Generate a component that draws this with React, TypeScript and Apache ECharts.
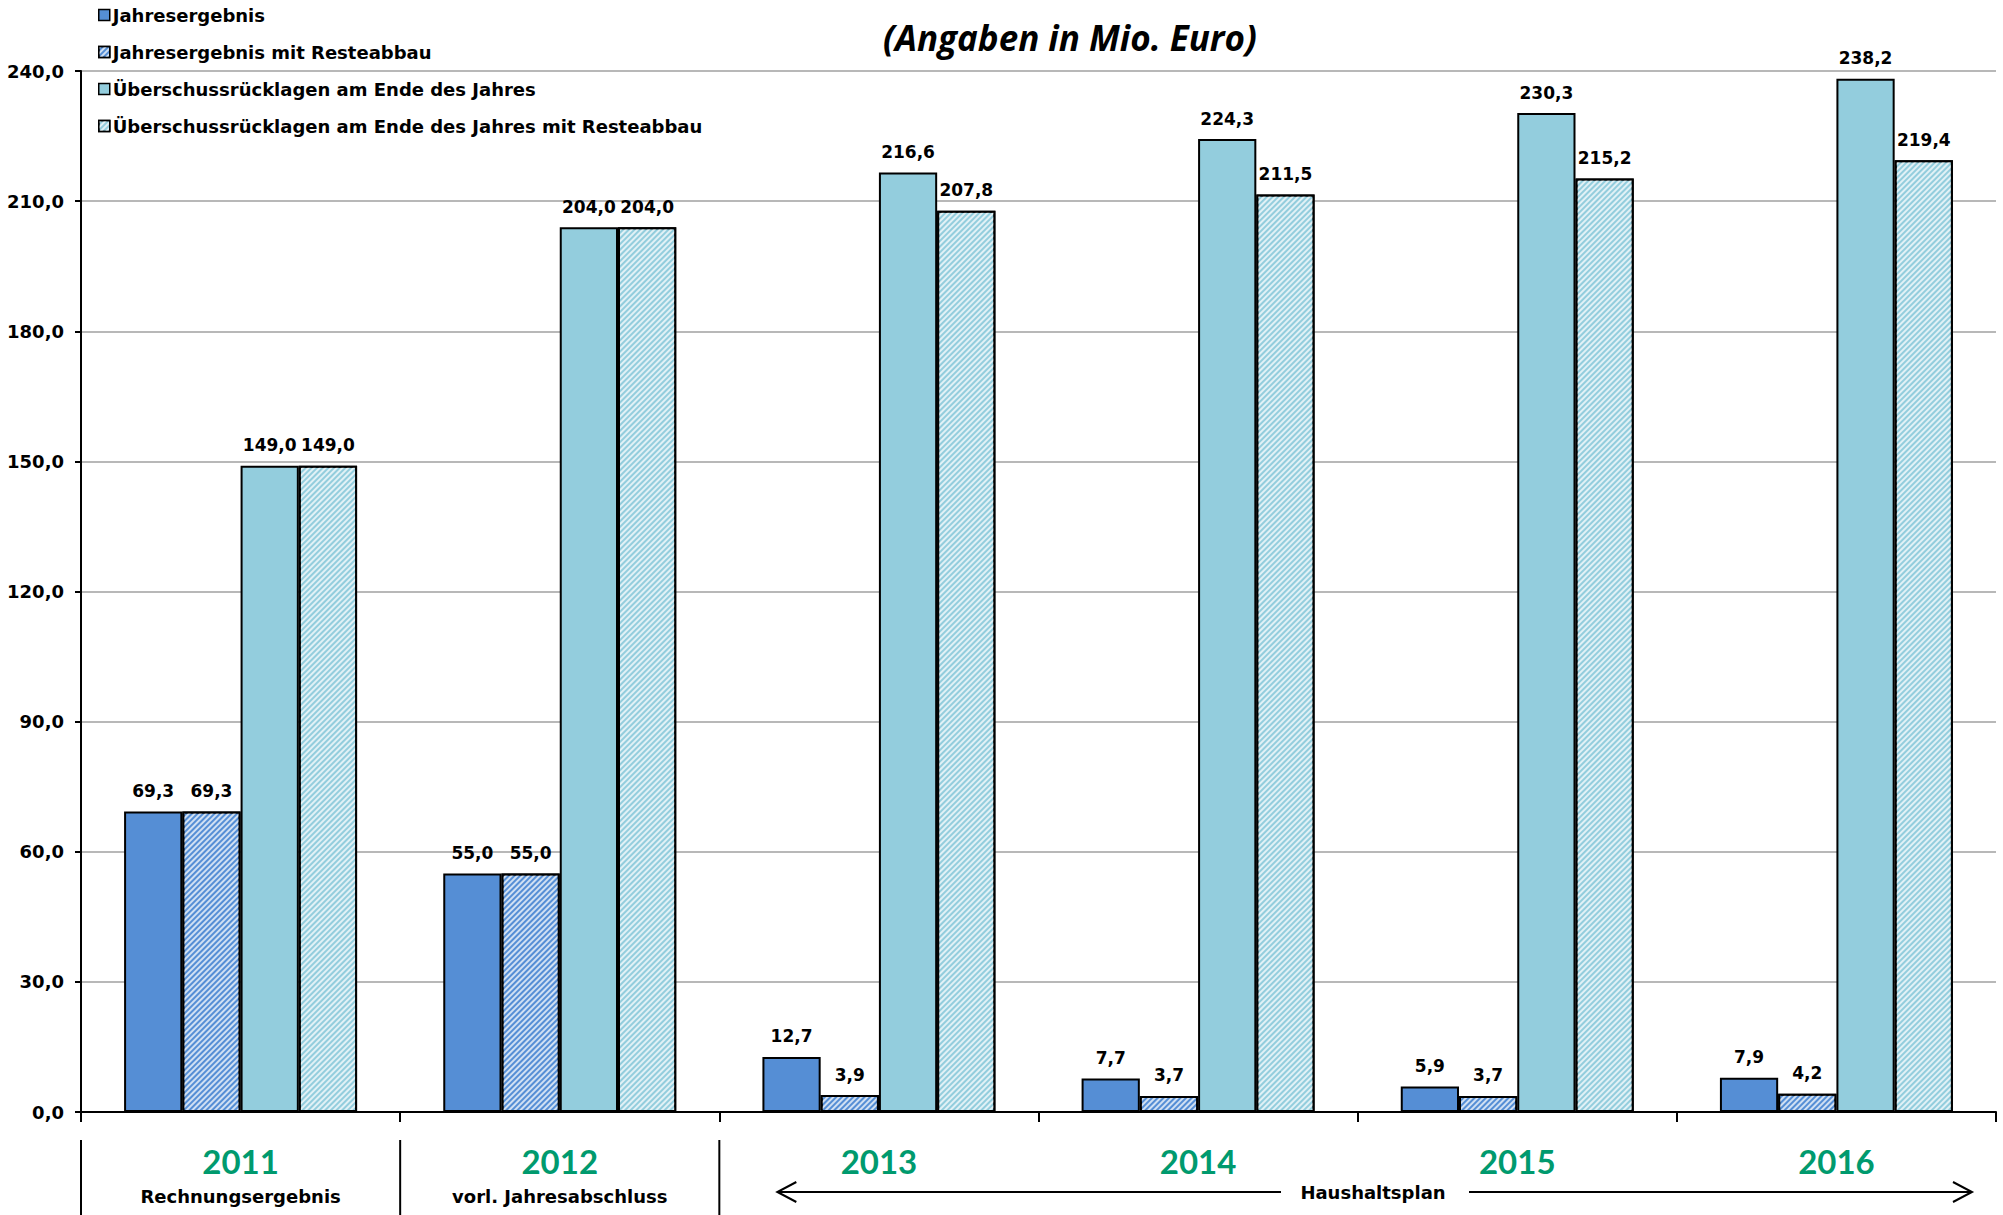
import React, { useEffect, useRef } from "react";
import * as echarts from "echarts";

// Jahre und Zusatzbezeichnungen der Kategorien
const years = ["2011", "2012", "2013", "2014", "2015", "2016"];
const yearNotes = ["Rechnungsergebnis", "vorl. Jahresabschluss", "", "", "", ""];

// Werte in Mio. Euro
const jahresergebnis = [69.3, 55.0, 12.7, 7.7, 5.9, 7.9];
const jahresergebnisRest = [69.3, 55.0, 3.9, 3.7, 3.7, 4.2];
const ruecklagen = [149.0, 204.0, 216.6, 224.3, 230.3, 238.2];
const ruecklagenRest = [149.0, 204.0, 207.8, 211.5, 215.2, 219.4];

const seriesNames = [
  "Jahresergebnis",
  "Jahresergebnis mit Resteabbau",
  "Überschussrücklagen am Ende des Jahres",
  "Überschussrücklagen am Ende des Jahres mit Resteabbau",
];

const Y_MIN = 0;
const Y_MAX = 240;
const Y_STEP = 30;

const W = 2003;
const H = 1215;
const GRID_LEFT = 81;
const GRID_RIGHT = 1996;
const GRID_TOP = 71;
const GRID_BOTTOM = 1112;

const BLUE = "#558ED5";
const AQUA = "#93CDDD";
const GREEN = "#009A6E";
const SANS = "'DejaVu Sans', 'Liberation Sans', Arial, sans-serif";

const fmt = (v: number) => v.toFixed(1).replace(".", ",");

// feine weiße Schraffur von links unten nach rechts oben
const hatch = {
  symbol: "rect",
  symbolSize: 1,
  dashArrayX: [[1, 0]],
  dashArrayY: [1.8, 1.8],
  rotation: -Math.PI / 4,
  color: "rgba(255,255,255,0.72)",
};

export default function App() {
  const ref = useRef<HTMLDivElement>(null);

  useEffect(() => {
    document.body.style.margin = "0";
    const chart = echarts.init(ref.current!, null, { renderer: "svg" });

    const catW = (GRID_RIGHT - GRID_LEFT) / years.length;
    const arrowY = 1192;
    const arrowStart = GRID_LEFT + 2 * catW + 58;
    const arrowEnd = GRID_RIGHT - 24;
    const textMid = 1373;

    const mkSeries = (name: string, data: number[], color: string, hatched: boolean) => ({
      name,
      type: "bar",
      data,
      barGap: "0%",
      barCategoryGap: "27%",
      itemStyle: {
        color,
        borderColor: "#000",
        borderWidth: 2,
        ...(hatched ? { decal: hatch } : {}),
      },
      label: {
        show: true,
        position: "top",
        distance: 12,
        formatter: (p: any) => fmt(p.value),
        color: "#000",
        fontFamily: SANS,
        fontWeight: "bold",
        fontSize: 17,
      },
    });

    const graphics: any[] = [];
    for (let i = 0; i < 3; i++) {
      const x = GRID_LEFT + i * catW;
      graphics.push({
        type: "line",
        shape: { x1: x, y1: 1140, x2: x, y2: H },
        style: { stroke: "#000", lineWidth: 2 },
      });
    }
    graphics.push(
      {
        type: "line",
        shape: { x1: arrowStart, y1: arrowY, x2: 1281, y2: arrowY },
        style: { stroke: "#000", lineWidth: 2 },
      },
      {
        type: "line",
        shape: { x1: 1469, y1: arrowY, x2: arrowEnd, y2: arrowY },
        style: { stroke: "#000", lineWidth: 2 },
      },
      {
        type: "polyline",
        shape: {
          points: [
            [arrowStart + 19, arrowY - 10],
            [arrowStart, arrowY],
            [arrowStart + 19, arrowY + 10],
          ],
        },
        style: { stroke: "#000", lineWidth: 2, fill: null },
      },
      {
        type: "polyline",
        shape: {
          points: [
            [arrowEnd - 19, arrowY - 10],
            [arrowEnd, arrowY],
            [arrowEnd - 19, arrowY + 10],
          ],
        },
        style: { stroke: "#000", lineWidth: 2, fill: null },
      },
      {
        type: "text",
        x: textMid,
        y: arrowY,
        style: {
          text: "Haushaltsplan",
          fill: "#000",
          font: `bold 18px ${SANS}`,
          align: "center",
          verticalAlign: "middle",
        },
      },
      {
        type: "text",
        x: 1070,
        y: 37,
        style: {
          text: "(Angaben in Mio. Euro)",
          fill: "#000",
          font: `italic bold 35px 'Open Sans', sans-serif`,
          align: "center",
          verticalAlign: "middle",
        },
      }
    );

    chart.setOption({
      animation: false,
      backgroundColor: "#fff",
      grid: {
        left: GRID_LEFT,
        right: W - GRID_RIGHT,
        top: GRID_TOP,
        bottom: H - GRID_BOTTOM,
        containLabel: false,
      },
      legend: {
        orient: "vertical",
        left: 93,
        top: 1,
        itemGap: 19,
        itemWidth: 11,
        itemHeight: 11,
        icon: "rect",
        data: seriesNames,
        itemStyle: { borderColor: "#000", borderWidth: 1.5 },
        textStyle: {
          color: "#000",
          fontFamily: SANS,
          fontWeight: "bold",
          fontSize: 18,
          lineHeight: 18,
          padding: [0, 0, 0, -2],
        },
      },
      xAxis: {
        type: "category",
        data: years,
        axisLine: { show: true, lineStyle: { color: "#000", width: 2 } },
        axisTick: { show: true, length: 10, lineStyle: { color: "#000", width: 2 } },
        axisLabel: {
          margin: 29,
          interval: 0,
          formatter: (v: string, i: number) =>
            `{y|${v}}\n{s|${yearNotes[i] || " "}}`,
          rich: {
            y: {
              color: GREEN,
              fontFamily: "Lato, sans-serif",
              fontWeight: "bold",
              fontSize: 33,
              lineHeight: 40,
            },
            s: {
              color: "#000",
              fontFamily: SANS,
              fontWeight: "bold",
              fontSize: 18,
              lineHeight: 30,
            },
          },
        },
      },
      yAxis: {
        type: "value",
        min: Y_MIN,
        max: Y_MAX,
        interval: Y_STEP,
        axisLine: { show: true, lineStyle: { color: "#000", width: 2 } },
        axisTick: { show: true, length: 6, lineStyle: { color: "#000", width: 2 } },
        axisLabel: {
          margin: 17,
          formatter: (v: number) => fmt(v),
          color: "#000",
          fontFamily: SANS,
          fontWeight: "bold",
          fontSize: 18,
        },
        splitLine: { show: true, lineStyle: { color: "#A0A0A0", width: 1.5 } },
      },
      series: [
        mkSeries(seriesNames[0], jahresergebnis, BLUE, false),
        mkSeries(seriesNames[1], jahresergebnisRest, BLUE, true),
        mkSeries(seriesNames[2], ruecklagen, AQUA, false),
        mkSeries(seriesNames[3], ruecklagenRest, AQUA, true),
      ],
      graphic: graphics,
    });

    return () => chart.dispose();
  }, []);

  return <div ref={ref} style={{ width: W, height: H }} />;
}
